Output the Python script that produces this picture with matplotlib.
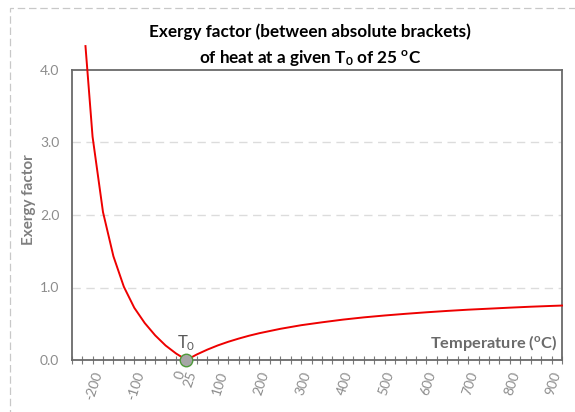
import matplotlib
matplotlib.use("Agg")
import matplotlib.pyplot as plt
from matplotlib.patches import Rectangle
import numpy as np

plt.rcParams['font.family'] = ['Lato', 'DejaVu Sans']
plt.rcParams['mathtext.fontset'] = 'custom'
plt.rcParams['mathtext.rm'] = 'Lato'
plt.rcParams['mathtext.bf'] = 'Lato:bold'
plt.rcParams['mathtext.it'] = 'Lato:italic'

# data
temperature = [-217, -200, -175, -150, -125, -100, -75, -50, -25, 0, 25,
               50, 75, 100, 125, 150, 175, 200, 250, 300, 350, 400, 450,
               500, 550, 600, 650, 700, 750, 800, 850, 900, 925]
exergy = [4.33, 3.08, 2.04, 1.43, 1.01, 0.72, 0.51, 0.34, 0.20, 0.09, 0.00,
          0.077, 0.143, 0.201, 0.251, 0.295, 0.335, 0.37, 0.43, 0.48, 0.52,
          0.557, 0.588, 0.614, 0.637, 0.658, 0.677, 0.694, 0.708, 0.722,
          0.735, 0.746, 0.751]
t0_x = [25]
t0_y = [0.0]
xtick_labels = [-200, -100, 0, 25, 100, 200, 300, 400, 500, 600, 700, 800, 900]
yticks = [0.0, 1.0, 2.0, 3.0, 4.0]

W, H = 575, 412
fig = plt.figure(figsize=(W/100, H/100), dpi=100)
ax = fig.add_axes([71.7/W, 1-360/H, (562-71.7)/W, (360-70)/H])

# outer dashed border
fig.patches.append(Rectangle((10/W, -0.1), 2, (1-8/H)+0.1, transform=fig.transFigure,
                             fill=False, edgecolor='#c8c8c8', lw=0.9, ls=(0, (6, 3)),
                             clip_on=False))

ax.set_xlim(-250, 925)
ax.set_ylim(0, 4.0)

for y in [1.0, 2.0, 3.0]:
    ax.axhline(y, color='#dcdcdc', lw=1.0, ls=(0, (6, 4)), zorder=0)

ax.plot(temperature, exergy, color='#ee0000', lw=1.4, clip_on=False, zorder=3)
ax.plot(t0_x, t0_y, 'o', ms=9, mfc='#a6a6a6', mec='#4e9a3a', mew=1.0,
        clip_on=False, zorder=4)
ax.text(t0_x[0], 0.09, r'$\mathregular{T_0}$', ha='center', va='bottom',
        fontsize=12, color='#595959')

for s in ax.spines.values():
    s.set_color('#6a6a6a')
    s.set_linewidth(1.3)

ax.set_xticks(np.arange(-250, 926, 25), minor=True)
ax.set_xticks(xtick_labels)
ax.set_xticklabels([str(v) for v in xtick_labels], rotation=72, ha='right',
                   rotation_mode='anchor', color='#8c8c8c', fontsize=10)
ax.tick_params(axis='x', which='both', direction='inout', length=6,
               color='#7a7a7a', width=0.8, pad=4)
ax.set_yticks(yticks)
ax.set_yticklabels([f'{v:.1f}' for v in yticks], color='#8c8c8c', fontsize=10)
ax.tick_params(axis='y', length=0, pad=9)

fig.text(29/W, 1-200/H, 'Exergy factor', rotation=90, ha='center', va='center',
         color='#7f7f7f', fontsize=11, fontweight='bold')
ax.text(0.99, 0.06, r'Temperature ($\mathregular{^o}$C)', transform=ax.transAxes,
        ha='right', va='center', fontsize=11.8, fontweight='bold', color='#6a6a6a')

fig.text(310/W, 1-32/H, 'Exergy factor (between absolute brackets)', ha='center',
         va='center', fontsize=12.3, fontweight='bold', color='black')
fig.text(310/W, 1-58/H, r'of heat at a given $\mathbf{T_0}$ of 25 $\mathbf{^o}$C',
         ha='center', va='center', fontsize=12.3, fontweight='bold', color='black')

fig.savefig('out.png', dpi=100)
